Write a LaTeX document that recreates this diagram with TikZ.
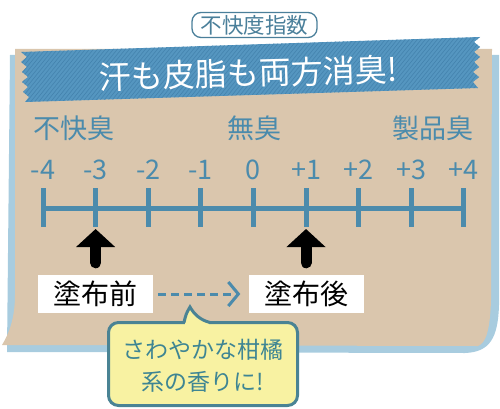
\documentclass[tikz,border=0pt]{standalone}
\usepackage{fontspec}
\setmainfont{Noto Sans CJK JP}
\usetikzlibrary{arrows.meta}
\definecolor{kraft}{HTML}{DAC6AD}
\definecolor{cardblue}{HTML}{A8CCDF}
\definecolor{tape}{HTML}{5596C0}
\definecolor{tapestripe}{HTML}{4483AE}
\definecolor{scaleblue}{HTML}{4B8BAC}
\definecolor{labelblue}{HTML}{4A7F9A}
\definecolor{bubblefill}{HTML}{F8F2A2}
\definecolor{bubbleline}{HTML}{4A8394}
\definecolor{bubbletext}{HTML}{3E8593}
\newcommand{\fs}[1]{\fontsize{#1}{#1}\selectfont}
\tikzset{
  scaletext/.style={text=scaleblue, inner sep=0pt},
  numtext/.style={text=scaleblue, inner sep=0pt, font=\fs{27}},
  whitebox/.style={fill=white, minimum width=115pt, minimum height=38pt, inner sep=0pt, font=\fs{28}},
  bigarrow/.style={line width=11pt, line cap=round, -{Triangle[width=38pt,length=18pt]}},
  dasharrow/.style={scaleblue, line width=3pt, dash pattern=on 8pt off 5pt, -{Straight Barb[length=10pt,width=24pt]}},
  tickline/.style={scaleblue, line width=5pt}
}
\begin{document}
\begin{tikzpicture}[x=1pt,y=-1pt]
\useasboundingbox (0,0) rectangle (500,409);
% back card
\fill[cardblue] (10,55) -- (499,55) -- (499,305) .. controls (498,338) and (490,352) .. (465,353) -- (7,352) -- cycle;
% kraft card
\fill[kraft] (15,49) -- (492,49) -- (491,300) .. controls (490,330) and (486,343) .. (478,346) -- (2,345) .. controls (8,335) and (15,320) .. (15,295) -- cycle;
% tape
\begin{scope}
\path[clip] (21,52) -- (480,37) -- (474,42) -- (480,47) -- (474,52) -- (480,57) -- (474,62) -- (479,67) -- (473,72) -- (479,77) -- (473,82) -- (478,88)
  -- (25,102) -- (29,97) -- (23,92) -- (28,87) -- (22,82) -- (28,77) -- (22,72) -- (27,67) -- (21,62) -- (27,57) -- cycle;
\fill[tape] (0,20) rectangle (500,120);
\foreach \i in {-80,-76,...,520} \draw[tapestripe, line width=0.6pt] (\i,110) -- (\i+65,30);
\end{scope}
\node[text=white, font=\fs{32}, rotate=1.5, inner sep=0pt] (title) at (248,73) {汗も皮脂も両方消臭!};
\node[draw=labelblue, line width=1.3pt, rounded corners=9pt, fill=white, minimum width=125pt, minimum height=25pt, inner sep=0pt, text=labelblue, font=\fs{21.5}] (index) at (254.5,25) {不快度指数};
% scale labels
\node[scaletext, font=\fs{27}] (bad) at (74,128) {不快臭};
\node[scaletext, font=\fs{27}] (none) at (254,128) {無臭};
\node[scaletext, font=\fs{27}] (prod) at (433,128) {製品臭};
% scale
\foreach \i/\t in {0/-4,1/-3,2/-2,3/-1,4/0,5/+1,6/+2,7/+3,8/+4} {
  \coordinate (c\i) at (43+52.6*\i,208);
  \node[numtext] (n\i) at (43+52.6*\i,170) {\t};
  \draw[tickline] (43+52.6*\i,188) -- (43+52.6*\i,227);
}
\draw[tickline] (c0) -- (c8);
% boxes
\node[whitebox] (before) at (95.5,294) {塗布前};
\node[whitebox] (after) at (306,294) {塗布後};
\draw[bigarrow, shorten <=12pt, shorten >=21pt] (before.north -| c1) -- (c1);
\draw[bigarrow, shorten <=12pt, shorten >=21pt] (after.north -| c5) -- (c5);
\draw[dasharrow, shorten <=5pt, shorten >=8pt] (before.east) -- (after.west);
% bubble
\node[draw=bubbleline, line width=3pt, fill=bubblefill, rounded corners=10pt, minimum width=189pt, minimum height=83pt, inner sep=0pt] (bubble) at (203,364) {};
\fill[bubblefill] (185,325) -- (185,322) .. controls (186,314) .. (190,307) .. controls (194,314) and (200,320) .. (209,322) -- (209,325) -- cycle;
\draw[bubbleline, line width=3pt] (184,322.5) .. controls (186,314) .. (190,307) .. controls (194,314) and (200,320) .. (210,322.5);
\node[text=bubbletext, font=\fs{23}, align=center, inner sep=0pt] (btext) at (203,366) {さわやかな柑橘\\[9pt]系の香りに!};
\end{tikzpicture}
\end{document}
